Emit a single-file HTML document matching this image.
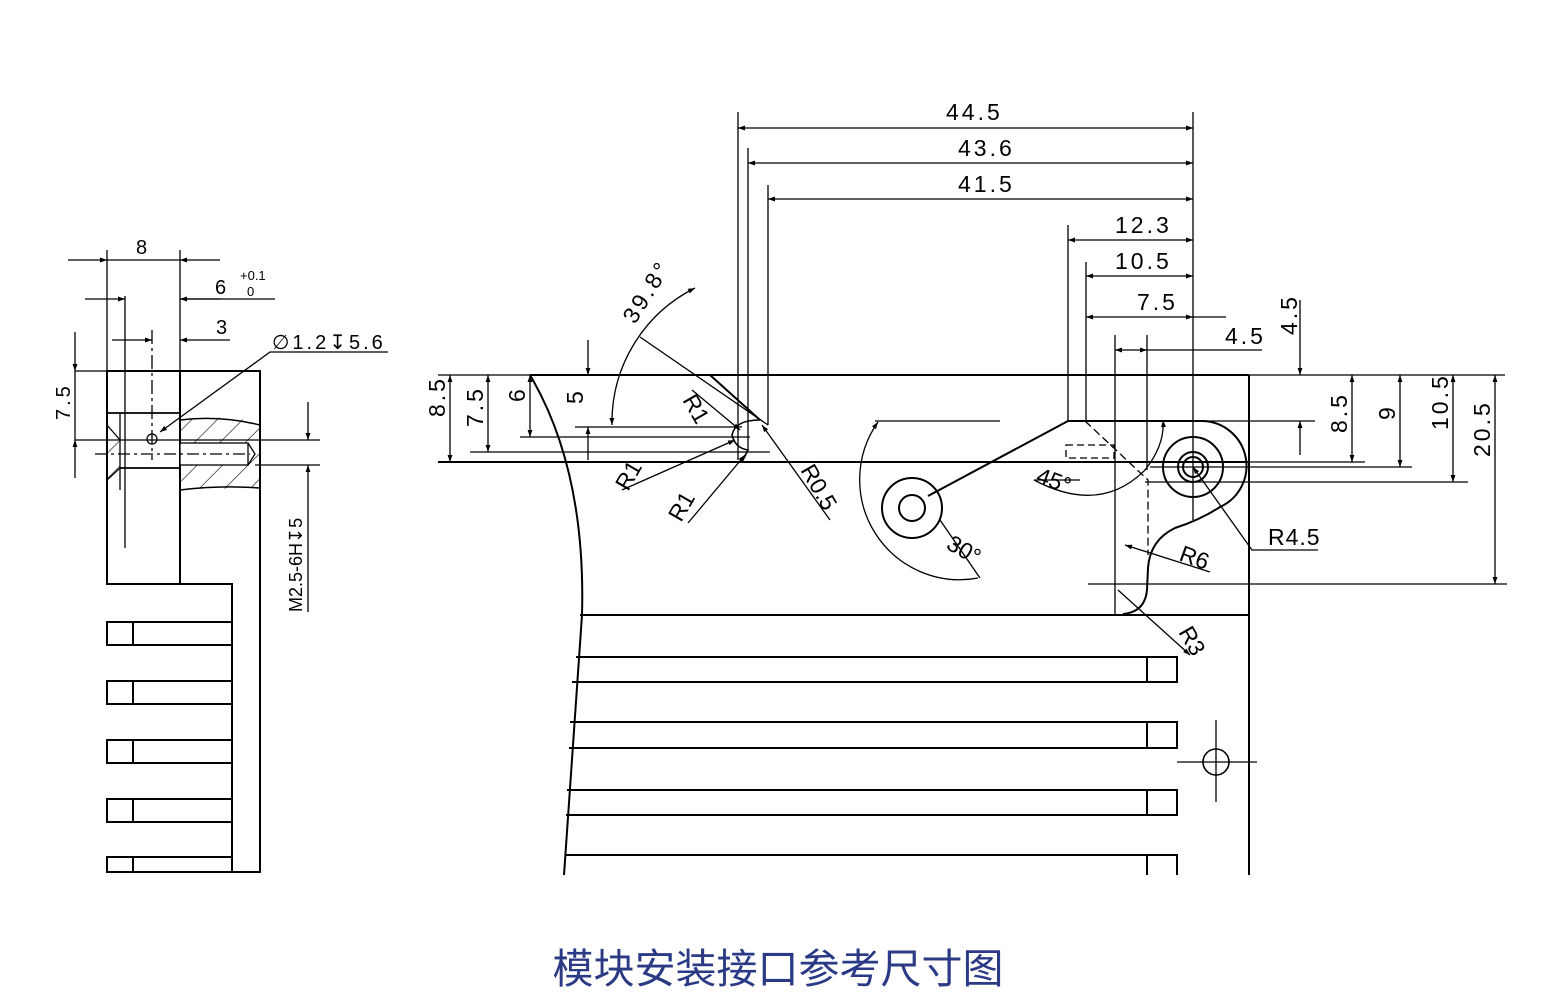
<!DOCTYPE html>
<html><head><meta charset="utf-8"><style>
html,body{margin:0;padding:0;background:#fff}
svg{display:block}
text{font-family:"Liberation Sans",sans-serif;fill:#000}
</style></head><body>
<svg width="1555" height="999" viewBox="0 0 1555 999" xmlns="http://www.w3.org/2000/svg">
<defs>
<marker id="a" viewBox="0 0 10 10" refX="10" refY="5" markerWidth="14" markerHeight="7" orient="auto-start-reverse" markerUnits="userSpaceOnUse"><path d="M0,1.5 L10,5 L0,8.5z" fill="#000"/></marker>
<pattern id="h" width="18" height="18" patternUnits="userSpaceOnUse" patternTransform="rotate(45)"><line x1="0" y1="0" x2="0" y2="18" stroke="#000" stroke-width="1.2"/></pattern>
</defs>
<g fill="none" stroke="#000" stroke-width="1.3">
<path d="M107,371 H260 V872 H107" stroke-width="2"/>
<path d="M107,371 V584 H232 V872" stroke-width="2"/>
<line x1="180" y1="371" x2="180" y2="584" stroke-width="2"/>
<g stroke-width="2">
<rect x="107" y="622" width="125" height="23"/><line x1="133" y1="622" x2="133" y2="645"/>
<rect x="107" y="681" width="125" height="23"/><line x1="133" y1="681" x2="133" y2="704"/>
<rect x="107" y="740" width="125" height="23"/><line x1="133" y1="740" x2="133" y2="763"/>
<rect x="107" y="799" width="125" height="23"/><line x1="133" y1="799" x2="133" y2="822"/>
<rect x="107" y="857" width="125" height="15"/><line x1="133" y1="857" x2="133" y2="872"/>
</g>
<path d="M180,420 Q220,415 245,420 Q255,422 260,425 V485 Q240,490 210,488 Q190,487 180,490 Z" fill="url(#h)" stroke="none"/>
<path d="M107,430 L120,440 L120,490 L107,500Z" fill="url(#h)" stroke="none"/>
<path d="M180,420 Q220,415 260,425 M180,490 Q220,485 260,488" stroke-width="1.5"/>
<line x1="107" y1="413" x2="180" y2="413" stroke-width="1.8"/>
<line x1="120" y1="468" x2="180" y2="468" stroke-width="1.8"/>
<line x1="120" y1="413" x2="120" y2="490"/>
<path d="M107,425 L120,440 M107,480 L120,468" />
<rect x="180" y="443" width="68" height="22" fill="#fff"/>
<path d="M248,443 L255,454 L248,465"/>
<line x1="125" y1="296" x2="125" y2="548"/>
<line x1="152" y1="330" x2="152" y2="460" stroke-dasharray="14,4,3,4"/>
<line x1="95" y1="454" x2="250" y2="454" stroke-dasharray="12,4,3,4"/>
<circle cx="152" cy="439" r="5"/>
<line x1="75" y1="440" x2="320" y2="440"/>
<line x1="75" y1="371" x2="107" y2="371"/>
<line x1="255" y1="465" x2="320" y2="465"/>
<line x1="107" y1="250" x2="107" y2="371"/>
<line x1="180" y1="250" x2="180" y2="371"/>
<line x1="68" y1="260" x2="107" y2="260" marker-end="url(#a)"/>
<line x1="107" y1="260" x2="180" y2="260"/>
<line x1="220" y1="260" x2="180" y2="260" marker-end="url(#a)"/>
<line x1="85" y1="299" x2="125" y2="299" marker-end="url(#a)"/>
<line x1="220" y1="299" x2="180" y2="299" marker-end="url(#a)"/>
<line x1="180" y1="299" x2="275" y2="299"/>
<line x1="112" y1="340" x2="152" y2="340" marker-end="url(#a)"/>
<line x1="230" y1="340" x2="180" y2="340" marker-end="url(#a)"/>
<line x1="75" y1="332" x2="75" y2="371" marker-end="url(#a)"/>
<line x1="75" y1="478" x2="75" y2="440" marker-end="url(#a)"/>
<line x1="75" y1="371" x2="75" y2="440"/>
<line x1="308" y1="402" x2="308" y2="440" marker-end="url(#a)"/>
<line x1="308" y1="612" x2="308" y2="465" marker-end="url(#a)"/>
<path d="M388,352 H270 L160,432" marker-end="url(#a)"/>
</g>
<g font-size="20">
<text x="136" y="254">8</text>
<text x="215" y="294">6</text>
<text x="240" y="280" font-size="13">+0.1</text>
<text x="247" y="296" font-size="13">0</text>
<text x="216" y="334">3</text>
<text x="272" y="349" letter-spacing="3">∅1.2↧5.6</text>
<text transform="translate(70,420) rotate(-90)" letter-spacing="3">7.5</text>
<text transform="translate(302,612) rotate(-90)" font-size="18">M2.5-6H↧5</text>
</g>

<g fill="none" stroke="#000" stroke-width="1.3">
<line x1="530" y1="375" x2="1249" y2="375" stroke-width="2"/>
<line x1="1249" y1="375" x2="1505" y2="375"/>
<line x1="438" y1="375" x2="530" y2="375"/>
<line x1="438" y1="462" x2="1249" y2="462" stroke-width="2"/>
<line x1="1249" y1="375" x2="1249" y2="875" stroke-width="2"/>
<line x1="580" y1="615" x2="1249" y2="615" stroke-width="2"/>
<path d="M530,375 Q586,470 582,615 L564,875" stroke-width="2"/>
<g stroke-width="2">
<path d="M576,657 H1177 V682 H572"/><line x1="1147" y1="657" x2="1147" y2="682"/>
<path d="M570,722 H1177 V748 H569"/><line x1="1147" y1="722" x2="1147" y2="748"/>
<path d="M567,790 H1177 V815 H566"/><line x1="1147" y1="790" x2="1147" y2="815"/>
<path d="M565,855 H1177 V875"/><line x1="1147" y1="855" x2="1147" y2="875"/>
</g>
<circle cx="1216" cy="762" r="13" stroke-width="1.6"/>
<line x1="1177" y1="762" x2="1257" y2="762"/>
<line x1="1216" y1="720" x2="1216" y2="802"/>
<path d="M1068,421 H1203 A45,45 0 0 1 1220,507 Q1200,520 1175,528 Q1150,540 1148,568 L1147,590 Q1145,612 1123,614" stroke-width="2"/>
<path d="M1068,421 L928,496" stroke-width="2"/>
<circle cx="1193" cy="467" r="30" stroke-width="2"/>
<circle cx="1193" cy="467" r="15" stroke-width="2"/>
<circle cx="1193" cy="467" r="10" stroke-width="2"/>
<circle cx="912" cy="508" r="30" stroke-width="2"/>
<circle cx="912" cy="508" r="13" stroke-width="2"/>
<path d="M1085,421 L1148,480 V555" stroke-dasharray="8,4"/>
<rect x="1066" y="445" width="48" height="13" stroke-dasharray="7,4"/>
<path d="M710,375 L760,420" stroke-width="2"/>
<path d="M760,420 Q735,420 732,435 Q735,448 748,450 L742,462" stroke-width="1.6"/>
<path d="M640,337 L768,425"/>
<path d="M692,390 L740,430" marker-end="url(#a)"/>
<path d="M622,490 L735,440" marker-end="url(#a)"/>
<path d="M688,523 L745,455" marker-end="url(#a)"/>
<path d="M830,520 L762,425" marker-end="url(#a)"/>
<path d="M612,425 A150,150 0 0 1 695,288" marker-start="url(#a)" marker-end="url(#a)"/>
<path d="M875,421 L1000,421"/>
<path d="M878,422 A100,100 0 0 0 978,578" marker-start="url(#a)"/>
<path d="M940,520 L980,578"/>
<path d="M1034,480 Q1100,515 1145,470 Q1165,445 1163,420" marker-end="url(#a)"/>
<line x1="1034" y1="480" x2="1080" y2="480"/>
<path d="M1193,467 L1252,550 H1318" marker-start="url(#a)"/>
<path d="M1125,545 L1210,572" marker-start="url(#a)"/>
<path d="M1118,590 L1190,655" marker-end="url(#a)"/>
<line x1="738" y1="112" x2="738" y2="460"/>
<line x1="748" y1="148" x2="748" y2="450"/>
<line x1="768" y1="185" x2="768" y2="425"/>
<line x1="1068" y1="225" x2="1068" y2="421"/>
<line x1="1086" y1="262" x2="1086" y2="421"/>
<line x1="1193" y1="112" x2="1193" y2="520"/>
<line x1="1115" y1="335" x2="1115" y2="615"/>
<line x1="1147" y1="335" x2="1147" y2="470"/>
<line x1="1130" y1="462" x2="1365" y2="462"/>
<line x1="1150" y1="467" x2="1412" y2="467"/>
<line x1="1145" y1="482" x2="1468" y2="482"/>
<line x1="1088" y1="584" x2="1507" y2="584"/>
<line x1="470" y1="452" x2="770" y2="452"/>
<line x1="520" y1="437" x2="750" y2="437"/>
<line x1="575" y1="427" x2="742" y2="427"/>
<line x1="738" y1="128" x2="1193" y2="128" marker-start="url(#a)" marker-end="url(#a)"/>
<line x1="748" y1="163" x2="1193" y2="163" marker-start="url(#a)" marker-end="url(#a)"/>
<line x1="768" y1="199" x2="1193" y2="199" marker-start="url(#a)" marker-end="url(#a)"/>
<line x1="1068" y1="240" x2="1193" y2="240" marker-start="url(#a)" marker-end="url(#a)"/>
<line x1="1086" y1="276" x2="1193" y2="276" marker-start="url(#a)" marker-end="url(#a)"/>
<line x1="1086" y1="317" x2="1193" y2="317" marker-start="url(#a)" marker-end="url(#a)"/>
<line x1="1193" y1="317" x2="1226" y2="317"/>
<line x1="1115" y1="350" x2="1147" y2="350" marker-start="url(#a)" marker-end="url(#a)"/>
<line x1="1147" y1="350" x2="1262" y2="350"/>
<line x1="450" y1="375" x2="450" y2="462" marker-start="url(#a)" marker-end="url(#a)"/>
<line x1="488" y1="375" x2="488" y2="452" marker-start="url(#a)" marker-end="url(#a)"/>
<line x1="530" y1="375" x2="530" y2="437" marker-start="url(#a)" marker-end="url(#a)"/>
<line x1="588" y1="340" x2="588" y2="375" marker-end="url(#a)"/>
<line x1="588" y1="460" x2="588" y2="427" marker-end="url(#a)"/>
<line x1="1300" y1="300" x2="1300" y2="375" marker-end="url(#a)"/>
<line x1="1300" y1="455" x2="1300" y2="421" marker-end="url(#a)"/>
<line x1="1200" y1="421" x2="1315" y2="421"/>
<line x1="1352" y1="375" x2="1352" y2="462" marker-start="url(#a)" marker-end="url(#a)"/>
<line x1="1400" y1="375" x2="1400" y2="467" marker-start="url(#a)" marker-end="url(#a)"/>
<line x1="1453" y1="375" x2="1453" y2="482" marker-start="url(#a)" marker-end="url(#a)"/>
<line x1="1495" y1="375" x2="1495" y2="584" marker-start="url(#a)" marker-end="url(#a)"/>
</g>
<g font-size="23" letter-spacing="3">
<text x="946" y="120">44.5</text>
<text x="958" y="156">43.6</text>
<text x="958" y="192">41.5</text>
<text x="1115" y="233">12.3</text>
<text x="1115" y="269">10.5</text>
<text x="1137" y="310">7.5</text>
<text x="1225" y="344">4.5</text>
<text transform="translate(1297,335) rotate(-90)">4.5</text>
<text transform="translate(1347,433) rotate(-90)">8.5</text>
<text transform="translate(1395,420) rotate(-90)">9</text>
<text transform="translate(1448,430) rotate(-90)">10.5</text>
<text transform="translate(1490,457) rotate(-90)">20.5</text>
<text transform="translate(445,417) rotate(-90)">8.5</text>
<text transform="translate(483,427) rotate(-90)">7.5</text>
<text transform="translate(525,402) rotate(-90)">6</text>
<text transform="translate(583,404) rotate(-90)">5</text>
<text transform="translate(635,325) rotate(-58)">39.8°</text>
<text transform="translate(682,400) rotate(60)" letter-spacing="0">R1</text>
<text transform="translate(628,492) rotate(-60)" letter-spacing="0">R1</text>
<text transform="translate(681,523) rotate(-60)" letter-spacing="0">R1</text>
<text transform="translate(800,470) rotate(60)" letter-spacing="0">R0.5</text>
<text transform="translate(945,548) rotate(30)" letter-spacing="0">30°</text>
<text transform="translate(1035,482) rotate(20)" letter-spacing="0">45°</text>
<text x="1268" y="545" letter-spacing="1">R4.5</text>
<text transform="translate(1178,560) rotate(20)" letter-spacing="0">R6</text>
<text transform="translate(1178,632) rotate(60)" letter-spacing="0">R3</text>
</g>
<text x="778" y="983" text-anchor="middle" font-size="41" style="font-family:'Liberation Sans','Noto Sans CJK SC',sans-serif;fill:#2b3a85">模块安装接口参考尺寸图</text>
</svg>
</body></html>
